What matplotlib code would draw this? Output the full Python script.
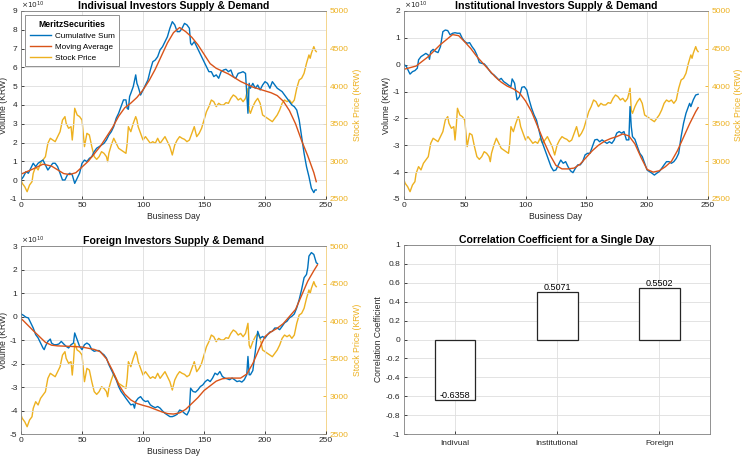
import matplotlib
matplotlib.use('Agg')
import matplotlib.pyplot as plt

plt.rcParams['font.family'] = ['Liberation Sans', 'DejaVu Sans']
plt.rcParams['axes.unicode_minus'] = False

BLUE = '#0072BD'
RED = '#D95319'
YEL = '#EDB120'
GRAY = '#262626'

# stock price (KRW), shared by the three panels
price_days = [0, 1, 3, 5, 7, 9, 10, 12, 14, 16, 18, 20, 22, 24, 26, 28, 30, 32, 34, 36, 37, 39, 41, 42, 43, 44,
              46, 48, 50, 51, 52, 54, 56, 58, 60, 62, 64, 66, 68, 70, 71, 72, 74, 76, 78, 80, 82, 84, 86, 87,
              88, 90, 92, 94, 95, 96, 98, 100, 102, 104, 106, 108, 110, 112, 114, 116, 118, 120, 122, 124,
              126, 128, 130, 132, 134, 136, 138, 140, 142, 144, 146, 148, 150, 152, 154, 156, 158, 160, 162,
              164, 166, 168, 170, 172, 174, 176, 178, 180, 182, 184, 186, 187, 188, 190, 192, 194, 196, 198,
              200, 202, 204, 206, 208, 210, 212, 214, 216, 218, 220, 222, 224, 226, 228, 230, 232, 234, 236,
              237, 238, 240, 241, 242]
price = [2753, 2708, 2664, 2597, 2686, 2730, 2841, 2930, 2886, 2974, 3018, 3063, 3240, 3307, 3284, 3262, 3329,
         3395, 3550, 3595, 3506, 3440, 3462, 3284, 3462, 3706, 3617, 3595, 3550, 3373, 3196, 3373, 3351, 3196,
         3063, 3027, 3063, 3129, 3107, 3063, 2996, 3107, 3218, 3307, 3240, 3174, 3151, 3129, 3107, 3240, 3462,
         3395, 3506, 3595, 3550, 3462, 3373, 3284, 3329, 3284, 3240, 3262, 3240, 3307, 3240, 3284, 3329, 3262,
         3196, 3085, 3218, 3284, 3329, 3307, 3293, 3262, 3284, 3373, 3462, 3329, 3373, 3440, 3550, 3661, 3728,
         3816, 3794, 3728, 3772, 3750, 3750, 3781, 3772, 3838, 3883, 3861, 3816, 3838, 3794, 3838, 3972, 3683,
         3639, 3728, 3794, 3838, 3772, 3617, 3595, 3573, 3550, 3528, 3573, 3617, 3683, 3772, 3816, 3794, 3816,
         3772, 3816, 3972, 4082, 4105, 4171, 4304, 4415, 4371, 4437, 4526, 4481, 4459]

# individual investors, cumulative sum (x1e10 KRW)
ind_days = [0, 2, 4, 6, 8, 10, 12, 14, 16, 18, 20, 22, 24, 26, 28, 30, 32, 34, 36, 38, 40, 42, 44, 46, 48, 50,
            52, 54, 56, 58, 60, 62, 64, 66, 68, 70, 72, 74, 76, 78, 80, 82, 84, 86, 87, 88, 89, 90, 92, 94, 95,
            96, 98, 100, 102, 104, 106, 108, 110, 112, 114, 116, 118, 120, 122, 124, 126, 128, 130, 132, 134,
            136, 138, 139, 140, 142, 144, 146, 148, 150, 152, 154, 156, 158, 160, 162, 164, 166, 168, 170, 172,
            174, 176, 178, 180, 182, 184, 186, 187, 188, 190, 192, 194, 196, 198, 200, 202, 204, 206, 208, 210,
            212, 214, 216, 218, 220, 222, 224, 226, 228, 230, 232, 234, 236, 238, 240, 241, 242]
ind_sum = [0.01, 0.19, 0.45, 0.37, 0.63, 0.90, 0.72, 0.90, 0.99, 1.07, 0.81, 0.54, 0.72, 0.90, 0.90, 0.72, 0.37,
           0.01, 0.01, 0.28, 0.37, 0.28, -0.17, 0.10, 0.37, 0.90, 1.07, 0.99, 1.16, 1.25, 1.52, 1.70, 1.78, 1.87,
           1.96, 2.14, 2.40, 2.58, 2.85, 3.29, 3.56, 3.91, 4.27, 4.27, 3.82, 3.77, 4.45, 4.62, 4.98, 5.60, 5.15,
           4.98, 4.53, 4.80, 5.06, 5.33, 5.86, 6.30, 6.39, 6.57, 6.93, 7.10, 7.37, 7.63, 8.08, 8.43, 8.26, 7.90,
           7.90, 8.08, 8.34, 8.26, 8.08, 7.28, 7.19, 7.37, 7.10, 6.84, 6.57, 6.30, 6.04, 5.77, 5.77, 5.51, 5.60,
           5.42, 5.77, 5.86, 5.90, 5.77, 5.86, 5.51, 5.42, 5.68, 5.72, 5.77, 5.68, 3.56, 5.15, 4.89, 5.15, 4.89,
           5.06, 4.80, 5.06, 5.24, 5.15, 4.89, 5.24, 5.06, 4.89, 4.80, 4.71, 4.53, 4.35, 4.18, 4.00, 3.91, 3.73,
           3.20, 2.32, 1.43, 0.72, 0.19, -0.43, -0.66, -0.52, -0.52]
ind_ma_days = [1, 10, 18, 25, 30, 35, 40, 45, 50, 55, 60, 65, 70, 75, 80, 85, 90, 95, 100, 105, 110, 115, 120,
               125, 130, 135, 140, 145, 150, 155, 160, 165, 170, 175, 180, 185, 190, 195, 200, 205, 210, 215,
               220, 225, 230, 235, 240, 242]
ind_ma = [0.35, 0.6, 0.85, 0.75, 0.55, 0.35, 0.3, 0.4, 0.7, 1.0, 1.4, 1.8, 2.3, 2.8, 3.4, 3.85, 4.1, 4.4, 4.8,
          5.3, 5.9, 6.6, 7.3, 7.85, 8.12, 7.9, 7.6, 7.2, 6.7, 6.2, 5.95, 5.8, 5.65, 5.45, 5.25, 5.1, 4.95, 4.85,
          4.75, 4.65, 4.5, 4.2, 3.7, 3.0, 2.1, 1.3, 0.4, -0.08]

# institutional investors
ins_days = [0, 2, 4, 5, 7, 9, 11, 12, 14, 16, 18, 20, 21, 22, 24, 26, 28, 30, 32, 34, 36, 38, 40, 42, 44, 46,
            48, 50, 52, 54, 56, 58, 60, 62, 64, 66, 68, 70, 72, 74, 76, 78, 80, 82, 84, 86, 88, 89, 91, 93, 95,
            97, 99, 101, 103, 105, 107, 109, 111, 113, 115, 117, 119, 121, 123, 125, 127, 129, 131, 133, 135,
            137, 139, 141, 143, 145, 147, 149, 151, 153, 155, 157, 159, 161, 163, 165, 167, 169, 171, 173, 175,
            177, 179, 181, 183, 185, 186, 187, 188, 190, 192, 194, 196, 198, 200, 202, 204, 206, 208, 210, 212,
            214, 216, 218, 220, 222, 224, 226, 228, 230, 232, 234, 235, 236, 238, 240, 242]
ins_sum = [0.01, -0.07, -0.26, -0.35, -0.26, -0.22, -0.13, 0.18, 0.30, 0.36, 0.42, 0.36, 0.20, 0.49, 0.57, 0.49,
           0.45, 0.67, 1.23, 1.29, 1.27, 1.11, 1.17, 1.19, 1.17, 1.17, 0.98, 0.86, 0.80, 0.82, 0.67, 0.55, 0.36,
           0.08, 0.05, 0.03, -0.07, -0.20, -0.32, -0.38, -0.47, -0.57, -0.51, -0.63, -0.69, -0.76, -0.82, -0.53,
           -0.69, -1.31, -1.19, -0.84, -0.82, -0.94, -1.31, -1.62, -1.87, -2.06, -2.43, -2.80, -3.05, -3.30,
           -3.55, -3.80, -3.95, -3.92, -3.73, -3.55, -3.67, -3.61, -3.80, -3.95, -4.02, -3.86, -3.73, -3.73,
           -3.61, -3.36, -3.30, -3.30, -3.05, -2.80, -2.78, -2.87, -2.80, -2.87, -2.93, -2.87, -2.93, -2.80,
           -2.55, -2.49, -2.55, -2.49, -2.80, -2.80, -1.56, -2.31, -2.68, -2.78, -3.05, -3.30, -3.42, -3.67,
           -3.92, -3.98, -4.04, -4.11, -4.04, -3.98, -3.86, -3.73, -3.61, -3.61, -3.67, -3.61, -3.49, -3.30,
           -2.68, -2.18, -1.81, -1.56, -1.44, -1.56, -1.31, -1.13, -1.10]
ins_ma_days = [1, 10, 20, 30, 40, 45, 50, 55, 60, 65, 70, 75, 80, 85, 90, 95, 100, 105, 110, 115, 120, 125, 130,
               135, 140, 145, 150, 155, 160, 165, 170, 175, 180, 185, 190, 195, 200, 205, 210, 215, 220, 225,
               230, 235, 240, 242]
ins_ma = [-0.16, -0.05, 0.3, 0.75, 1.12, 1.08, 0.85, 0.6, 0.3, 0.05, -0.2, -0.45, -0.65, -0.8, -0.9, -1.05,
          -1.35, -1.75, -2.3, -2.85, -3.35, -3.75, -3.88, -3.88, -3.85, -3.7, -3.45, -3.2, -3.0, -2.85, -2.75,
          -2.68, -2.58, -2.65, -2.95, -3.45, -3.9, -4.0, -3.95, -3.8, -3.6, -3.2, -2.7, -2.2, -1.75, -1.6]

# foreign investors
for_days = [0, 2, 4, 6, 8, 10, 12, 14, 16, 18, 19, 20, 22, 24, 25, 27, 29, 31, 33, 35, 37, 39, 41, 43, 44, 46,
            48, 50, 52, 54, 56, 58, 60, 62, 64, 66, 68, 70, 72, 74, 76, 78, 80, 82, 84, 86, 88, 90, 92, 93, 94,
            96, 98, 100, 102, 104, 106, 108, 110, 112, 114, 116, 118, 120, 122, 124, 126, 128, 130, 132, 134,
            136, 138, 139, 141, 143, 145, 147, 149, 151, 153, 155, 157, 159, 161, 163, 165, 167, 169, 171, 173,
            175, 177, 179, 181, 183, 185, 186, 187, 188, 190, 192, 194, 196, 198, 200, 202, 204, 206, 208, 210,
            212, 214, 216, 218, 220, 222, 224, 226, 228, 230, 232, 234, 235, 236, 238, 240, 242, 243]
for_sum = [0.11, 0.05, -0.03, -0.06, -0.27, -0.49, -0.77, -0.91, -1.13, -1.34, -1.41, -1.27, -1.06, -0.96,
           -1.13, -1.20, -1.20, -1.17, -1.06, -1.17, -1.27, -1.34, -1.20, -1.13, -0.70, -0.99, -1.27, -1.41,
           -1.20, -1.13, -1.20, -1.41, -1.48, -1.45, -1.45, -1.55, -1.63, -1.77, -2.05, -2.27, -2.48, -2.69,
           -2.98, -3.19, -3.33, -3.48, -3.62, -3.76, -3.73, -3.90, -3.62, -3.48, -3.41, -3.55, -3.62, -3.59,
           -3.76, -3.83, -3.88, -3.83, -3.90, -4.02, -4.12, -4.19, -4.26, -4.26, -4.22, -4.16, -3.98, -4.02,
           -4.12, -4.19, -3.98, -3.05, -3.19, -3.22, -3.12, -2.98, -2.91, -2.77, -2.69, -2.77, -2.62, -2.41,
           -2.48, -2.34, -2.55, -2.62, -2.65, -2.69, -2.62, -2.69, -2.77, -2.74, -2.79, -2.69, -2.48, -1.70,
           -2.48, -2.48, -2.30, -1.50, -0.63, -0.92, -0.85, -0.92, -0.77, -0.66, -0.63, -0.49, -0.49, -0.56,
           -0.42, -0.27, -0.20, -0.06, 0.01, 0.11, 0.37, 0.72, 1.15, 1.65, 1.79, 2.07, 2.57, 2.72, 2.64, 2.29,
           2.25]
for_ma_days = [1, 10, 15, 20, 25, 30, 40, 50, 60, 65, 70, 75, 80, 85, 90, 95, 100, 105, 110, 115, 120, 125,
               130, 135, 140, 145, 150, 155, 160, 165, 170, 175, 180, 185, 190, 195, 200, 205, 210, 215, 220,
               225, 230, 235, 240, 243]
for_ma = [-0.13, -0.6, -0.85, -1.1, -1.22, -1.25, -1.27, -1.3, -1.4, -1.5, -1.8, -2.3, -2.9, -3.3, -3.55, -3.7,
          -3.78, -3.85, -3.95, -4.05, -4.13, -4.15, -4.1, -3.95, -3.7, -3.45, -3.15, -2.95, -2.75, -2.65, -2.62,
          -2.62, -2.62, -2.45, -2.0, -1.4, -0.85, -0.65, -0.5, -0.3, 0.0, 0.3, 0.9, 1.5, 1.95, 2.2]

# correlation coefficients
corr_labels = ['Indivual', 'Institutional', 'Foreign']
corr_values = [-0.6358, 0.5071, 0.5502]

W, H = 743, 457
fig = plt.figure(figsize=(W / 100, H / 100), dpi=100)

TICK = 6
LAB = 6.2


def style_axes(ax):
    ax.tick_params(direction='in', length=2.5, labelsize=TICK, colors=GRAY, width=0.6, pad=2.5)
    ax.grid(True, color='#dedede', linewidth=0.6)
    ax.set_axisbelow(True)
    for s in ax.spines.values():
        s.set_color('#808080')
        s.set_linewidth(0.6)


def panel(rect, title, days, vsum, ma_days, ma, ylim, yticks):
    ax = fig.add_axes(rect)
    tw = ax.twinx()
    ax.set_zorder(tw.get_zorder() + 1)
    ax.patch.set_visible(False)
    p, = tw.plot(price_days, price, color=YEL, lw=1.0, label='Stock Price')
    b, = ax.plot(days, vsum, color=BLUE, lw=1.0, label='Cumulative Sum')
    r, = ax.plot(ma_days, ma, color=RED, lw=1.0, label='Moving Average')
    ax.set_xlim(0, 250)
    ax.set_xticks(range(0, 251, 50))
    ax.set_ylim(*ylim)
    ax.set_yticks(yticks)
    tw.set_ylim(2500, 5000)
    tw.set_yticks(range(2500, 5001, 500))
    style_axes(ax)
    tw.tick_params(direction='in', length=2.5, labelsize=TICK, colors=YEL, width=0.6, pad=2.5)
    tw.spines['right'].set_color('#f3cf7a')
    tw.spines['right'].set_linewidth(0.6)
    for s in ['left', 'top', 'bottom']:
        tw.spines[s].set_visible(False)
    ax.spines['right'].set_visible(False)
    ax.set_title(title, fontsize=7.6, fontweight='bold', pad=1.2, color='black')
    ax.set_xlabel('Business Day', fontsize=LAB, color=GRAY, labelpad=1.5)
    ax.set_ylabel('Volume (KRW)', fontsize=LAB, color=GRAY, labelpad=1.2)
    tw.set_ylabel('Stock Price (KRW)', fontsize=LAB, color=YEL, labelpad=3)
    ax.text(0.0, 1.002, r'$\times10^{10}$', transform=ax.transAxes, fontsize=5.3,
            color=GRAY, ha='left', va='bottom')
    return ax, (b, r, p)


ax1, hs = panel([0.0283, 0.5646, 0.4105, 0.4114], 'Indivisual Investors Supply & Demand',
                ind_days, ind_sum, ind_ma_days, ind_ma, (-1, 9), range(-1, 10))
leg = ax1.legend(handles=hs, loc='upper left', fontsize=5.9, title='MeritzSecurities',
                 title_fontproperties={'weight': 'bold', 'size': 6.2}, fancybox=False,
                 edgecolor='#808080', framealpha=1, borderaxespad=0.5, handlelength=2.6,
                 handletextpad=0.5, labelspacing=0.4, borderpad=0.55)
leg.get_frame().set_linewidth(0.6)
leg._legend_title_box.set_visible(True)

panel([0.5437, 0.5646, 0.409, 0.4114], 'Institutional Investors Supply & Demand',
      ins_days, ins_sum, ins_ma_days, ins_ma, (-5, 2), range(-5, 3))

panel([0.0283, 0.0503, 0.4105, 0.4114], 'Foreign Investors Supply & Demand',
      for_days, for_sum, for_ma_days, for_ma, (-5, 3), range(-5, 4))

# correlation bar chart
ax4 = fig.add_axes([0.5437, 0.0503, 0.4122, 0.4136])
xpos = [1, 2, 3]
ax4.bar(xpos, corr_values, width=0.4, color='white', edgecolor=GRAY, linewidth=0.9, zorder=3)
for x, v in zip(xpos, corr_values):
    ax4.text(x, v, f'{v:.4f}', ha='center', va='bottom', fontsize=6.5, color='black', zorder=4)
ax4.set_xlim(0.5, 3.5)
ax4.set_ylim(-1, 1)
ax4.set_yticks([round(-1 + 0.2 * i, 1) for i in range(11)])
ax4.set_yticklabels([f'{-1 + 0.2 * i:g}' for i in range(11)])
ax4.set_xticks(xpos)
ax4.set_xticklabels(corr_labels)
style_axes(ax4)
ax4.tick_params(axis='x', pad=4)
ax4.set_title('Correlation Coefficient for a Single Day', fontsize=7.6, fontweight='bold',
              pad=1.2, color='black')
ax4.set_ylabel('Correlation Coefficient', fontsize=LAB, color=GRAY, labelpad=2)

fig.savefig('out.png', dpi=100)
